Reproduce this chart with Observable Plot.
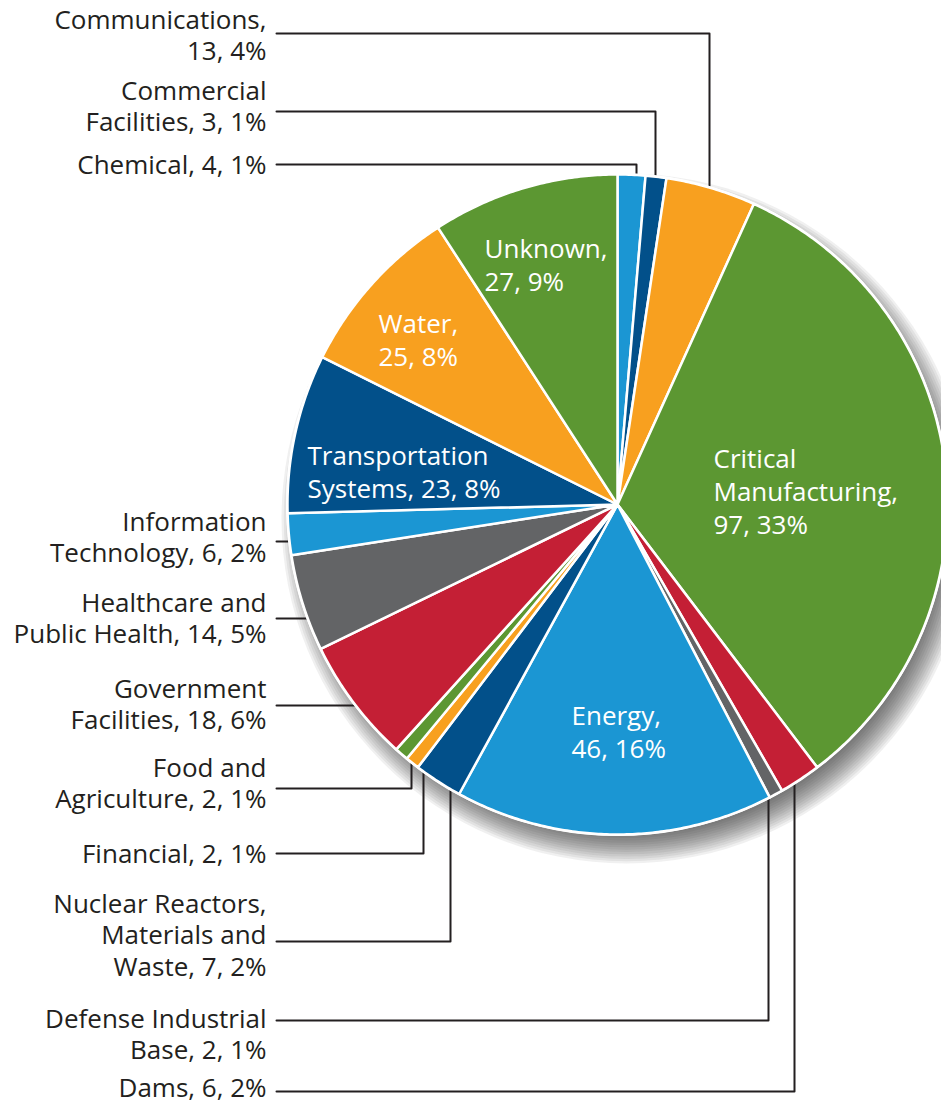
<!DOCTYPE html>
<html>
<head>
<meta charset="utf-8">
<script src="https://cdn.jsdelivr.net/npm/d3@7"></script>
<script src="https://cdn.jsdelivr.net/npm/@observablehq/plot@0.6"></script>
<style>
  html, body { margin: 0; padding: 0; background: #ffffff; }
  #chart svg { display: block; }
</style>
</head>
<body>
<div id="chart"></div>
<script>
// ---------------- DATA ----------------
const sectors = [
  "Chemical", "Commercial Facilities", "Communications", "Critical Manufacturing",
  "Dams", "Defense Industrial Base", "Energy", "Nuclear Reactors, Materials and Waste",
  "Financial", "Food and Agriculture", "Government Facilities", "Healthcare and Public Health",
  "Information Technology", "Transportation Systems", "Water", "Unknown"
];
const counts   = [4, 3, 13, 97, 6, 2, 46, 7, 2, 2, 18, 14, 6, 23, 25, 27];
const percents = [1, 1, 4, 33, 2, 1, 16, 2, 1, 1, 6, 5, 2, 8, 8, 9];
// label text as printed (line breaks inside the sector name)
const displayNames = [
  "Chemical", "Commercial\nFacilities", "Communications", "Critical\nManufacturing",
  "Dams", "Defense Industrial\nBase", "Energy", "Nuclear Reactors,\nMaterials and\nWaste",
  "Financial", "Food and\nAgriculture", "Government\nFacilities", "Healthcare and\nPublic Health",
  "Information\nTechnology", "Transportation\nSystems", "Water", "Unknown"
];
const palette = ["#1b96d3", "#02508a", "#f8a01f", "#5c9732", "#c41f35", "#636466"];

// ---------------- LAYOUT ----------------
const W = 941, H = 1106;
const pie = {cx: 617, cy: 504, r: 330};
// value on a new line after the name?
const valueOnNewLine = [false, false, true, true, false, false, true, false, false, false, false, false, false, false, true, true];
// where each label sits: "in" = inside slice (left-aligned at x,y), "out" = left column with leader
const labelLayout = [
  {mode: "out", y: 164,  leadY: 164,  leadX: 636},
  {mode: "out", y: 105,  leadY: 111,  leadX: 655},
  {mode: "out", y: 34,   leadY: 33,   leadX: 709},
  {mode: "in",  x: 713,  y: 490},
  {mode: "out", y: 1087, leadY: 1091, leadX: 794},
  {mode: "out", y: 1033, leadY: 1020, leadX: 768},
  {mode: "in",  x: 571,  y: 730},
  {mode: "out", y: 934,  leadY: 941,  leadX: 450},
  {mode: "out", y: 853,  leadY: 853,  leadX: 423},
  {mode: "out", y: 782,  leadY: 788,  leadX: 411},
  {mode: "out", y: 703,  leadY: 705,  leadX: null},
  {mode: "out", y: 617,  leadY: 618,  leadX: null},
  {mode: "out", y: 536,  leadY: 541,  leadX: null},
  {mode: "in",  x: 307,  y: 470},
  {mode: "in",  x: 378,  y: 338},
  {mode: "in",  x: 484,  y: 263}
];
const outLabelX = 266, leaderStartX = 276;
// soft drop shadow: stacked translucent discs
const shadow = {dx: 9, dy: 14, spread: 30, steps: 14};

// ---------------- DERIVED ----------------
const rows = sectors.map((s, i) => ({
  sector: s, count: counts[i], pct: percents[i],
  color: palette[i % palette.length],
  text: displayNames[i] + "," + (valueOnNewLine[i] ? "\n" : " ") + counts[i] + ", " + percents[i] + "%",
  ...labelLayout[i]
}));

const arcs = d3.pie().sort(null).value(d => d.count)(rows);
const toXY = (a, r) => [pie.cx + r * Math.sin(a), pie.cy - r * Math.cos(a)];

const slicePts = [];
arcs.forEach(a => {
  const d = a.data;
  slicePts.push({key: d.sector, color: d.color, x: pie.cx, y: pie.cy});
  const n = Math.max(2, Math.ceil((a.endAngle - a.startAngle) / (Math.PI / 360)));
  for (let k = 0; k <= n; k++) {
    const t = a.startAngle + (a.endAngle - a.startAngle) * k / n;
    const [x, y] = toXY(t, pie.r);
    slicePts.push({key: d.sector, color: d.color, x, y});
  }
});

const rings = d3.range(shadow.steps).map(k => ({
  x: pie.cx, y: pie.cy,
  r: pie.r + shadow.spread / 2 - shadow.spread * k / (shadow.steps - 1)
}));

// leader lines: horizontal from label column, then vertical to the pie edge
const leaderPts = [];
rows.filter(d => d.mode === "out").forEach(d => {
  leaderPts.push({key: d.sector, x: leaderStartX, y: d.leadY});
  if (d.leadX == null) {
    const dy = d.leadY - pie.cy;
    const ex = pie.cx - Math.sqrt(pie.r * pie.r - dy * dy) + 4;
    leaderPts.push({key: d.sector, x: ex, y: d.leadY});
  } else {
    const dx = d.leadX - pie.cx;
    const h = Math.sqrt(pie.r * pie.r - dx * dx);
    const ey = d.leadY < pie.cy ? pie.cy - h + 4 : pie.cy + h - 4;
    leaderPts.push({key: d.sector, x: d.leadX, y: d.leadY});
    leaderPts.push({key: d.sector, x: d.leadX, y: ey});
  }
});

const font = "Open Sans, Liberation Sans, sans-serif";

const chart = Plot.plot({
  width: W,
  height: H,
  margin: 0,
  x: {domain: [0, W], range: [0, W], axis: null},
  y: {domain: [0, H], range: [0, H], axis: null},
  r: {type: "identity"},
  color: {type: "identity"},
  marks: [
    Plot.dot(rings, {x: "x", y: "y", r: "r", fill: "#2e2e2e", fillOpacity: 0.07, dx: shadow.dx, dy: shadow.dy}),
    Plot.line(leaderPts, {x: "x", y: "y", z: "key", stroke: "#231f20", strokeWidth: 2}),
    Plot.dot([pie], {x: "cx", y: "cy", r: () => pie.r + 1.5, fill: "white"}),
    Plot.line(slicePts, {x: "x", y: "y", z: "key", fill: "color", stroke: "white", strokeWidth: 2.5, strokeLinejoin: "round", curve: "linear-closed"}),
    Plot.text(rows.filter(d => d.mode === "out"), {
      x: () => outLabelX, y: "y", text: "text", textAnchor: "end",
      fontSize: 26, lineHeight: 1.2, fill: "#231f20", fontFamily: font, fontWeight: 500
    }),
    Plot.text(rows.filter(d => d.mode === "in"), {
      x: "x", y: "y", text: "text", textAnchor: "start",
      fontSize: 26, lineHeight: 1.28, fill: "white", fontFamily: font, fontWeight: 500
    })
  ]
});

document.getElementById("chart").appendChild(chart);
</script>
</body>
</html>
